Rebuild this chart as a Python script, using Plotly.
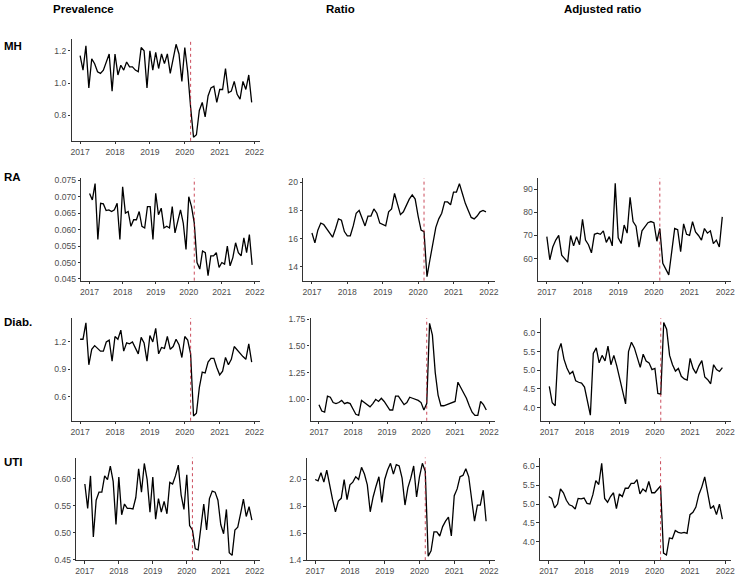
import plotly.graph_objects as go

# ---------------- data (monthly, Jan 2017 - Dec 2021) ----------------
years = [2017, 2018, 2019, 2020, 2021]
months = list(range(1, 13))
x_time = [y + (m - 1) / 12 for y in years for m in months]

mh_prev = [1.17, 1.08, 1.23, 0.97, 1.15, 1.12, 1.07, 1.06, 1.08, 1.13, 1.18, 0.95,
           1.18, 1.05, 1.11, 1.08, 1.13, 1.10, 1.10, 1.08, 1.07, 1.22, 1.20, 0.97,
           1.20, 1.08, 1.19, 1.09, 1.18, 1.12, 1.18, 1.06, 1.16, 1.24, 1.18, 1.01,
           1.22, 1.07, 0.85, 0.665, 0.68, 0.83, 0.88, 0.79, 0.92, 0.97, 0.98, 0.88,
           0.96, 0.96, 1.09, 0.94, 0.95, 1.01, 0.93, 0.90, 1.01, 0.96, 1.05, 0.88]

ra_prev = [0.071, 0.069, 0.074, 0.057, 0.068, 0.0678, 0.0658, 0.066, 0.0655, 0.066, 0.068, 0.057,
           0.073, 0.065, 0.0655, 0.061, 0.063, 0.063, 0.0655, 0.061, 0.0605, 0.067, 0.067, 0.057,
           0.071, 0.0645, 0.0665, 0.0605, 0.061, 0.0605, 0.067, 0.059, 0.0625, 0.066, 0.062, 0.054,
           0.070, 0.067, 0.062, 0.050, 0.048, 0.0535, 0.053, 0.046, 0.052, 0.052, 0.053, 0.0485,
           0.050, 0.0495, 0.055, 0.049, 0.0515, 0.056, 0.053, 0.052, 0.0575, 0.053, 0.0585, 0.0493]

diab_prev = [1.23, 1.23, 1.41, 0.95, 1.12, 1.16, 1.13, 1.10, 1.10, 1.20, 1.22, 0.99,
             1.26, 1.23, 1.33, 1.10, 1.19, 1.18, 1.20, 1.14, 1.07, 1.25, 1.19, 0.99,
             1.27, 1.20, 1.35, 1.07, 1.14, 1.13, 1.26, 1.12, 1.15, 1.23, 1.17, 1.03,
             1.26, 1.22, 1.07, 0.39, 0.42, 0.70, 0.87, 0.86, 0.98, 1.02, 1.02, 0.92,
             0.84, 0.88, 1.03, 0.95, 1.01, 1.15, 1.11, 1.07, 1.04, 1.01, 1.18, 0.98]

uti_prev = [0.590, 0.545, 0.605, 0.492, 0.560, 0.575, 0.575, 0.605, 0.598, 0.623, 0.595, 0.515,
            0.603, 0.533, 0.553, 0.545, 0.545, 0.544, 0.565, 0.618, 0.575, 0.628, 0.598, 0.538,
            0.603, 0.525, 0.563, 0.538, 0.558, 0.535, 0.593, 0.590, 0.605, 0.625, 0.570, 0.543,
            0.607, 0.513, 0.505, 0.470, 0.468, 0.513, 0.553, 0.505, 0.563, 0.577, 0.575, 0.560,
            0.515, 0.498, 0.543, 0.463, 0.458, 0.505, 0.510, 0.535, 0.562, 0.530, 0.548, 0.523]

ra_ratio = [16.4, 15.7, 16.6, 17.1, 17.0, 16.7, 16.4, 16.1, 16.7, 17.4, 17.3, 16.5,
            16.2, 16.2, 16.9, 17.8, 18.0, 17.5, 16.9, 17.6, 17.6, 18.1, 17.8, 17.1,
            17.0, 16.9, 17.9, 18.1, 19.2, 18.5, 17.7, 17.9, 18.4, 18.8, 19.1, 18.8,
            17.6, 16.6, 16.5, 13.3, 14.5, 15.6, 16.8, 17.4, 17.8, 18.6, 18.6, 18.4,
            19.3, 19.3, 19.9, 19.2, 18.5, 18.0, 17.5, 17.4, 17.6, 17.9, 18.0, 17.9]

diab_ratio = [0.95, 0.89, 0.88, 1.03, 1.02, 0.97, 0.96, 0.97, 0.99, 0.96, 0.97, 0.96,
              0.91, 0.86, 0.85, 0.99, 0.97, 0.95, 0.93, 0.96, 1.00, 0.98, 1.01, 0.98,
              0.94, 0.90, 0.90, 1.03, 1.03, 0.99, 0.95, 0.97, 1.02, 1.01, 1.00, 0.99,
              0.97, 0.90, 0.96, 1.71, 1.60, 1.25, 1.04, 0.94, 0.94, 0.95, 0.96, 0.97,
              0.98, 1.16, 1.11, 1.06, 1.01, 0.94, 0.88, 0.85, 0.85, 0.98, 0.95, 0.90]

uti_ratio = [2.00, 1.99, 2.05, 1.98, 2.07, 1.95, 1.85, 1.76, 1.84, 1.86, 2.00, 1.85,
             1.96, 1.98, 2.02, 2.00, 2.09, 2.04, 1.96, 1.76, 1.87, 1.95, 2.02, 1.83,
             2.00, 2.07, 2.12, 2.04, 2.11, 2.10, 2.01, 1.81, 1.94, 2.01, 2.10, 1.87,
             2.02, 2.12, 2.06, 1.43, 1.47, 1.61, 1.61, 1.58, 1.65, 1.69, 1.72, 1.58,
             1.88, 1.93, 2.02, 2.03, 2.08, 2.02, 1.86, 1.69, 1.81, 1.81, 1.92, 1.69]

ra_adj = [69.5, 59.5, 65, 68, 70, 61.5, 60, 58.5, 70, 65.5, 69.5, 66,
          77, 68, 66, 62.5, 70.5, 71, 70.5, 72, 67, 69.5, 65.5, 92.5,
          69, 66.5, 74.5, 71, 86.5, 76, 74, 65, 72, 74, 75.5, 76,
          75.5, 67.5, 73, 58, 55.5, 53, 63, 73, 72.5, 63, 75, 70.5,
          70, 76, 71.5, 70, 68, 73, 71, 72, 66.5, 68, 65, 78]

diab_adj = [4.57, 4.13, 4.05, 5.50, 5.72, 5.30, 5.06, 4.90, 4.97, 4.72, 4.68, 4.66,
            4.55, 4.20, 3.80, 5.45, 5.60, 5.20, 5.40, 5.25, 5.65, 5.15, 5.40, 5.12,
            4.78, 4.42, 4.10, 5.50, 5.75, 5.60, 5.33, 5.08, 5.43, 5.25, 5.20, 5.02,
            5.05, 4.38, 4.36, 6.28, 6.10, 5.40, 5.15, 4.98, 5.05, 4.84, 4.77, 4.74,
            5.32, 5.05, 4.92, 5.12, 5.26, 4.82, 4.75, 4.64, 5.15, 5.02, 4.97, 5.07]

uti_adj = [5.20, 5.15, 4.90, 5.00, 5.40, 5.30, 5.10, 4.98, 4.95, 4.87, 5.15, 5.14,
           5.16, 5.02, 5.00, 5.25, 5.62, 5.52, 6.08, 5.15, 5.05, 5.20, 5.30, 4.88,
           5.27, 5.20, 5.42, 5.42, 5.55, 5.55, 5.65, 5.27, 5.40, 5.33, 5.60, 5.30,
           5.30, 5.40, 5.48, 3.70, 3.65, 4.10, 4.08, 4.30, 4.25, 4.23, 4.25, 4.22,
           4.72, 4.78, 4.92, 5.25, 5.45, 5.72, 5.30, 4.88, 4.95, 4.72, 5.00, 4.60]

x_tick_labels = ["2017", "2018", "2019", "2020", "2021", "2022"]
x_tick_vals = [2017, 2018, 2019, 2020, 2021, 2022]
column_titles = ["Prevalence", "Ratio", "Adjusted ratio"]
row_titles = ["MH", "RA", "Diab.", "UTI"]
covid_start = 2020 + 2 / 12  # March 2020

# ---------------- layout geometry ----------------
W, H = 740, 579
col_right = {1: 261, 2: 497, 3: 735}
row_top_bottom = {1: (35.5, 139), 2: (177, 281), 3: (319, 423.3), 4: (460.7, 565)}

panels = [
    # row, col, series, left px, yrange, ytickvals, tickformat
    (1, 1, mh_prev, 71, [0.642, 1.273], [0.8, 1.0, 1.2], ".1f"),
    (2, 1, ra_prev, 81, [0.0445, 0.0756], [0.045, 0.05, 0.055, 0.06, 0.065, 0.07, 0.075], ".3f"),
    (3, 1, diab_prev, 71, [0.338, 1.462], [0.6, 0.9, 1.2], ".1f"),
    (4, 1, uti_prev, 76, [0.449, 0.639], [0.45, 0.5, 0.55, 0.6], ".2f"),
    (2, 2, ra_ratio, 304.3, [13.02, 20.28], [14, 16, 18, 20], "d"),
    (3, 2, diab_ratio, 311.7, [0.80, 1.76], [1.0, 1.25, 1.5, 1.75], ".2f"),
    (4, 2, uti_ratio, 307.7, [1.40, 2.163], [1.4, 1.6, 1.8, 2.0], ".1f"),
    (2, 3, ra_adj, 540.7, [50.5, 94.7], [60, 70, 80, 90], "d"),
    (3, 3, diab_adj, 543.3, [3.65, 6.40], [4.0, 4.5, 5.0, 5.5, 6.0], ".1f"),
    (4, 3, uti_adj, 542.7, [3.51, 6.235], [4.0, 4.5, 5.0, 5.5, 6.0], ".1f"),
]

FONT = "Liberation Sans, Arial, sans-serif"
fig = go.Figure()
layout = dict(
    width=W, height=H, margin=dict(l=0, r=0, t=0, b=0),
    paper_bgcolor="white", plot_bgcolor="white", showlegend=False,
    font=dict(family=FONT), hovermode=False,
)
shapes = []
annotations = []

for i, (r, c, ys, left, yr, ytv, fmt) in enumerate(panels, start=1):
    sx = "" if i == 1 else str(i)
    top, bottom = row_top_bottom[r]
    fig.add_trace(go.Scatter(x=x_time, y=ys, mode="lines",
                             line=dict(color="black", width=1.3),
                             xaxis="x" + sx, yaxis="y" + sx, hoverinfo="skip"))
    axis_common = dict(showgrid=False, zeroline=False, showline=True,
                       linecolor="#333333", linewidth=1.2,
                       ticks="outside", ticklen=2.5, tickwidth=1, tickcolor="#333333",
                       tickfont=dict(family=FONT, size=8.6, color="#4d4d4d"))
    layout["xaxis" + sx] = dict(axis_common, domain=[left / W, col_right[c] / W],
                                range=[2016.754, 2022.162], anchor="y" + sx,
                                tickvals=x_tick_vals, ticktext=x_tick_labels)
    layout["yaxis" + sx] = dict(axis_common, domain=[1 - bottom / H, 1 - top / H],
                                range=yr, anchor="x" + sx,
                                tickvals=ytv, tickformat=fmt)
    shapes.append(dict(type="line", xref="x" + sx, yref="y" + sx + " domain",
                       x0=covid_start, x1=covid_start, y0=0, y1=1,
                       line=dict(color="rgba(190,30,50,0.8)", width=1, dash="dot"),
                       layer="above"))

# column titles
for txt, px in zip(column_titles, [50, 325, 565]):
    annotations.append(dict(text="<b>" + txt + "</b>", x=px / W, y=1 - 5 / H,
                            xref="paper", yref="paper", xanchor="left", yanchor="middle",
                            showarrow=False, font=dict(family=FONT, size=11.5, color="black")))
# row titles
for txt, py in zip(row_titles, [43, 176, 323, 465]):
    annotations.append(dict(text="<b>" + txt + "</b>", x=1 / W, y=1 - py / H,
                            xref="paper", yref="paper", xanchor="left", yanchor="middle",
                            showarrow=False, font=dict(family=FONT, size=11.5, color="black")))

layout["shapes"] = shapes
layout["annotations"] = annotations
fig.update_layout(**layout)
fig.write_html("out.html", config={"displayModeBar": False},
               post_script="document.body.style.margin='0';")
